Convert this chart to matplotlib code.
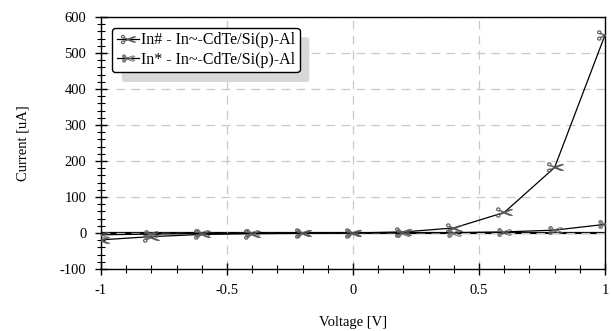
import matplotlib
matplotlib.use("Agg")
import matplotlib.pyplot as plt
from matplotlib.ticker import MultipleLocator, FuncFormatter
from matplotlib.patches import Shadow

voltage = [-1.0, -0.8, -0.6, -0.4, -0.2, 0.0, 0.2, 0.4, 0.6, 0.8, 1.0]
current_hash = [-19, -10, -4, -2, -1, 0, 3, 14, 57, 182, 550]
current_star = [-5, -3, -1, -1, 0, 0, 0, 1, 3, 8, 24]
labels = ["In# - In~-CdTe/Si(p)-Al", "In* - In~-CdTe/Si(p)-Al"]

plt.rcParams['font.family'] = ['Liberation Serif', 'DejaVu Serif']
plt.rcParams['mathtext.fontset'] = 'dejavusans'

fig = plt.figure(figsize=(6.11, 3.31), dpi=100)
ax = fig.add_axes([0.1653, 0.1873, 0.8249, 0.7613])

ax.axhline(0, color='black', lw=1.6, zorder=1)
ax.plot(voltage, current_hash, color='black', lw=0.9, marker='$\u2702$',
        markersize=12, markeredgewidth=0.2, markerfacecolor='#555555',
        markeredgecolor='#555555', label=labels[0], zorder=3)
ax.plot(voltage, current_star, color='black', lw=0.9, marker='$\u2704$',
        markersize=10, markeredgewidth=0.2, markerfacecolor='#666666',
        markeredgecolor='#666666', label=labels[1], zorder=3)

ax.set_xlim(-1, 1)
ax.set_ylim(-100, 600)
ax.xaxis.set_major_locator(MultipleLocator(0.5))
ax.xaxis.set_minor_locator(MultipleLocator(0.1))
ax.yaxis.set_major_locator(MultipleLocator(100))
ax.yaxis.set_minor_locator(MultipleLocator(20))
ax.xaxis.set_major_formatter(FuncFormatter(lambda v, p: '%g' % v))
ax.yaxis.set_major_formatter(FuncFormatter(lambda v, p: '%g' % v))
ax.tick_params(which='major', direction='inout', length=9, width=1, labelsize=10.5, pad=6)
ax.tick_params(which='minor', direction='inout', length=6, width=0.8)
ax.tick_params(top=False, right=False)
ax.grid(True, which='major', color='#c8c8c8', linestyle=(0, (7, 5)), lw=0.9)
for s in ax.spines.values():
    s.set_linewidth(1.0)

ax.set_xlabel('Voltage [V]', fontsize=10.5, labelpad=14)
ax.set_ylabel('Current [uA]', fontsize=10.5, labelpad=22)

leg = ax.legend(loc='upper left', bbox_to_anchor=(0.006, 0.99), fancybox=True,
                shadow=False, framealpha=1,
                edgecolor='black', fontsize=11.5, handlelength=1.4,
                handletextpad=0.1, borderpad=0.3, labelspacing=0.2,
                markerscale=0.9)
leg.get_frame().set_linewidth(1.0)
sh = Shadow(leg.legendPatch, 7, -7, facecolor='#d8d8d8', edgecolor='none', alpha=1)
sh.set_zorder(4.9)
ax.add_artist(sh)

fig.canvas.draw()
fig.savefig('out.png', dpi=100)
